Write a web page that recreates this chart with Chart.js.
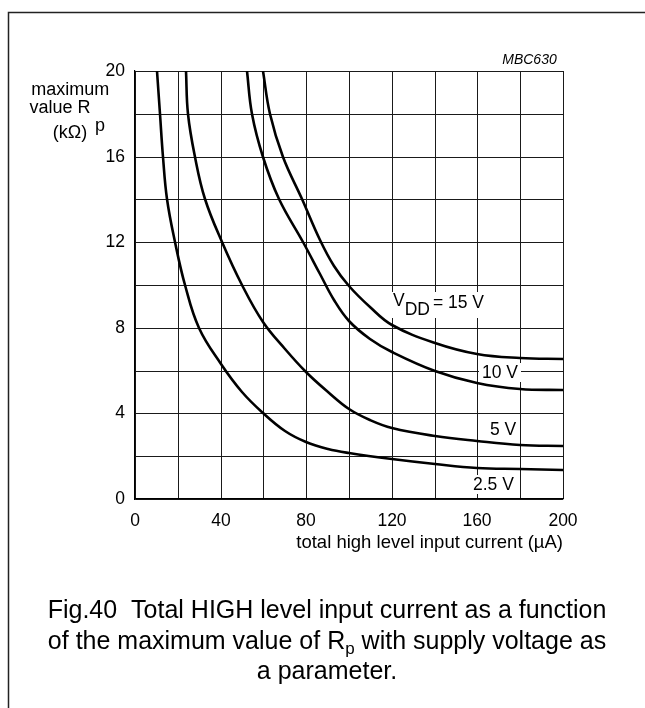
<!DOCTYPE html>
<html>
<head>
<meta charset="utf-8">
<script src="https://cdn.jsdelivr.net/npm/chart.js@4/dist/chart.umd.min.js"></script>
<style>
  html, body { margin: 0; padding: 0; background: #fff; }
  #wrap { position: relative; width: 645px; height: 708px; }
  canvas { display: block; }
</style>
</head>
<body>
<div id="wrap"><canvas id="c" width="645" height="708"></canvas></div>
<script>
// ---------------- data ----------------
const seriesNames = ['2.5 V', '5 V', '10 V', '15 V'];

const current_2v5 = [10.2, 11.5, 12.9, 14.9, 18.5, 23.4, 30, 40, 50, 60, 70, 80, 90, 100, 120, 140, 160, 180, 200];
const rp_2v5      = [20, 18, 16, 14, 12, 10, 8, 6.3, 5.0, 4.0, 3.2, 2.65, 2.35, 2.13, 1.85, 1.63, 1.47, 1.39, 1.36];

const current_5v  = [23.8, 24.9, 28, 32.7, 40.5, 49.8, 60, 70, 80, 90, 100, 110, 120, 140, 160, 180, 200];
const rp_5v       = [20, 18, 16, 14, 12, 10, 8.25, 7.0, 5.95, 5.0, 4.22, 3.68, 3.3, 2.96, 2.71, 2.53, 2.48];

const current_10v = [52.2, 54.5, 60, 67.5, 78.5, 86.5, 93, 100, 110, 120, 140, 160, 180, 200];
const rp_10v      = [20, 18, 16, 14, 12, 10.5, 9.3, 8.3, 7.48, 6.85, 5.97, 5.4, 5.15, 5.1];

const current_15v = [60, 63, 69.3, 78, 86.5, 93, 100, 110, 120, 140, 160, 180, 200];
const rp_15v      = [20, 18, 16, 14, 12.1, 10.9, 9.95, 8.95, 8.13, 7.27, 6.78, 6.57, 6.55];

const xTickLabels = [0, 40, 80, 120, 160, 200];
const yTickLabels = [0, 4, 8, 12, 16, 20];

const xTitle = 'total high level input current (\u00B5A)';
const yTitleLines = ['maximum', 'value R', 'p', '(k\u03A9)'];
const figId = 'MBC630';
const captionLine1 = 'Fig.40  Total HIGH level input current as a function';
const captionLine2a = 'of the maximum value of R';
const captionLine2sub = 'p';
const captionLine2b = ' with supply voltage as';
const captionLine3 = 'a parameter.';

// ---------------- build ----------------
const FONT = "'Liberation Sans', Arial, Helvetica, sans-serif";
Chart.defaults.font.family = FONT;
Chart.defaults.color = '#000';

function pts(xs, ys) { return xs.map((v, i) => ({ x: v, y: ys[i] })); }

const datasets = [
  pts(current_2v5, rp_2v5),
  pts(current_5v, rp_5v),
  pts(current_10v, rp_10v),
  pts(current_15v, rp_15v)
].map((d, i) => ({
  label: seriesNames[i],
  data: d,
  showLine: true,
  borderColor: '#000',
  borderWidth: 2.6,
  pointRadius: 0,
  tension: 0.4,
  fill: false
}));

// label anchors (data coordinates of the text's left/baseline)
const labelAnchors = [
  { x: 162.0, y: 5.65, text: '10 V' },
  { x: 165.9, y: 2.99, text: '5 V' },
  { x: 158.1, y: 0.40, text: '2.5 V' }
];
const vddAnchor = { x: 120.4, y: 9.02 };

const LBL_FONT = '17.5px ' + FONT;

const extras = {
  id: 'extras',
  beforeDatasetsDraw(chart) {
    const { ctx, scales: { x, y } } = chart;
    ctx.save();
    ctx.font = LBL_FONT;
    ctx.textBaseline = 'alphabetic';
    ctx.textAlign = 'left';
    // VDD label
    const vx = x.getPixelForValue(vddAnchor.x), vy = y.getPixelForValue(vddAnchor.y);
    const wV = ctx.measureText('V').width;
    const wDD = ctx.measureText('DD').width;
    const wEq = ctx.measureText('= 15 V').width;
    const total = wV + wDD + 3 + wEq;
    ctx.fillStyle = '#fff';
    ctx.fillRect(vx - 2, vy - 14, total + 4, 26);
    ctx.fillStyle = '#000';
    ctx.fillText('V', vx, vy);
    ctx.fillText('DD', vx + wV, vy + 9);
    ctx.fillText('= 15 V', vx + wV + wDD + 3, vy + 2);
    labelAnchors.forEach(l => {
      const px = x.getPixelForValue(l.x), py = y.getPixelForValue(l.y);
      const w = ctx.measureText(l.text).width;
      ctx.fillStyle = '#fff';
      ctx.fillRect(px - 3, py - 15, w + 6, 19);
      ctx.fillStyle = '#000';
      ctx.fillText(l.text, px, py);
    });
    ctx.restore();
  },
  afterDraw(chart) {
    const { ctx, chartArea: a } = chart;
    ctx.save();
    // frame
    ctx.strokeStyle = '#222';
    ctx.lineWidth = 1.5;
    ctx.beginPath();
    ctx.moveTo(8.5, 708); ctx.lineTo(8.5, 12.5); ctx.lineTo(645, 12.5);
    ctx.stroke();
    ctx.fillStyle = '#000';
    // y title
    ctx.font = '18px ' + FONT;
    ctx.textAlign = 'center';
    ctx.fillText(yTitleLines[0], 70.3, 95);
    ctx.textAlign = 'left';
    ctx.fillText(yTitleLines[1], 29.5, 113.3);
    ctx.fillText(yTitleLines[2], 95, 131);
    ctx.textAlign = 'center';
    ctx.fillText(yTitleLines[3], 70, 138.3);
    // x title
    ctx.textAlign = 'right';
    ctx.font = '18.5px ' + FONT;
    ctx.fillText(xTitle, a.right, 548.3);
    // figure id
    ctx.font = 'italic 14px ' + FONT;
    ctx.fillText(figId, 556.7, 64);
    // caption
    const cx = 327;
    ctx.font = '25px ' + FONT;
    ctx.textAlign = 'center';
    ctx.fillText(captionLine1, cx, 617.5);
    ctx.fillText(captionLine3, cx, 678.5);
    ctx.textAlign = 'left';
    const w1 = ctx.measureText(captionLine2a).width;
    const w3 = ctx.measureText(captionLine2b).width;
    ctx.font = '17px ' + FONT;
    const w2 = ctx.measureText(captionLine2sub).width;
    const start = cx - (w1 + w2 + w3) / 2;
    ctx.font = '25px ' + FONT;
    ctx.fillText(captionLine2a, start, 648.5);
    ctx.fillText(captionLine2b, start + w1 + w2, 648.5);
    ctx.font = '17px ' + FONT;
    ctx.fillText(captionLine2sub, start + w1, 653.5);
    ctx.restore();
  }
};

new Chart(document.getElementById('c'), {
  type: 'scatter',
  data: { datasets },
  options: {
    responsive: false,
    animation: false,
    devicePixelRatio: 1,
    layout: { padding: { left: 95, top: 71, right: 82, bottom: 169 } },
    plugins: { legend: { display: false }, tooltip: { enabled: false } },
    scales: {
      x: {
        type: 'linear', min: 0, max: 200,
        alignToPixels: true,
        afterFit: s => { s.height = 40; },
        ticks: {
          stepSize: 20, autoSkip: false, maxRotation: 0,
          padding: 12,
          font: { size: 17.5 }, color: '#000',
          callback: v => xTickLabels.includes(v) ? String(v) : ''
        },
        grid: { color: '#1a1a1a', lineWidth: 1, drawTicks: false },
        border: { color: '#000', width: 1.2 }
      },
      y: {
        type: 'linear', min: 0, max: 20,
        alignToPixels: true,
        afterFit: s => { s.width = 40; },
        ticks: {
          stepSize: 2, autoSkip: false,
          padding: 10,
          font: { size: 17.5 }, color: '#000',
          callback: v => yTickLabels.includes(v) ? String(v) : ''
        },
        grid: { color: '#1a1a1a', lineWidth: 1, drawTicks: false },
        border: { color: '#000', width: 1.2 }
      }
    }
  },
  plugins: [extras]
});
</script>
</body>
</html>
